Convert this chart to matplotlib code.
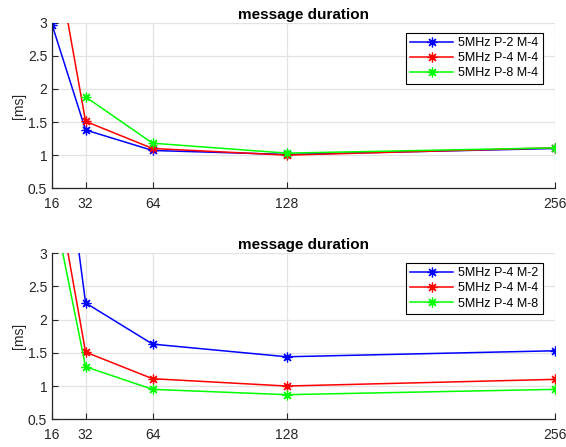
import numpy as np
import matplotlib.pyplot as plt

plt.rcParams['font.family'] = ['Liberation Sans', 'DejaVu Sans']
plt.rcParams['font.size'] = 10

# subcarriers on the x axis
x = [16, 32, 64, 128, 256]
xticks = [16, 32, 64, 128, 256]

# top panel: varying P, M-4
top_p2 = [2.97, 1.38, 1.07, 1.01, 1.10]
top_p4 = [4.35, 1.51, 1.10, 1.00, 1.11]
top_p8 = [np.nan, 1.88, 1.18, 1.03, 1.11]
top_labels = ['5MHz P-2 M-4', '5MHz P-4 M-4', '5MHz P-8 M-4']

# bottom panel: P-4, varying M
bot_m2 = [6.10, 2.25, 1.63, 1.44, 1.53]
bot_m4 = [4.35, 1.51, 1.11, 1.00, 1.10]
bot_m8 = [3.80, 1.29, 0.95, 0.87, 0.95]
bot_labels = ['5MHz P-4 M-2', '5MHz P-4 M-4', '5MHz P-4 M-8']

colors = ['#0000ff', '#ff0000', '#00ff00']

# matlab style '*' marker: 8 spoke asterisk
star = (8, 2, 0)


def draw_panel(ax, series, labels):
    for ys, lab, c in zip(series, labels, colors):
        ax.plot(x, ys, color=c, marker=star, markersize=7, markeredgewidth=0.9,
                linewidth=1.1, label=lab)
    ax.set_xlim(16, 256)
    ax.set_ylim(0.5, 3)
    ax.set_xticks(xticks)
    ax.set_yticks([0.5, 1, 1.5, 2, 2.5, 3])
    ax.set_yticklabels(['0.5', '1', '1.5', '2', '2.5', '3'])
    ax.grid(True, color='#e3e3e3', linewidth=0.9)
    ax.set_axisbelow(True)
    for s in ['top', 'right']:
        ax.spines[s].set_visible(False)
    for s in ['left', 'bottom']:
        ax.spines[s].set_color('#262626')
        ax.spines[s].set_linewidth(0.9)
    ax.tick_params(direction='in', length=4, colors='#262626', labelsize=10)
    ax.tick_params(axis='x', pad=6)
    ax.set_ylabel('[ms]', color='#262626', labelpad=1)
    ax.set_title('message duration', fontweight='bold', fontsize=11, pad=3)
    leg = ax.legend(loc='upper right', bbox_to_anchor=(0.976, 0.94),
                    fancybox=False, edgecolor='black', framealpha=1,
                    handlelength=3.4, handletextpad=0.4, borderpad=0.35,
                    labelspacing=0.25, borderaxespad=0, fontsize=9)
    leg.get_frame().set_linewidth(0.8)


fig = plt.figure(figsize=(5.66, 4.47), dpi=100)
ax1 = fig.add_axes([0.092, 0.579, 0.888, 0.370])
ax2 = fig.add_axes([0.092, 0.062, 0.888, 0.372])

draw_panel(ax1, [top_p2, top_p4, top_p8], top_labels)
draw_panel(ax2, [bot_m2, bot_m4, bot_m8], bot_labels)

fig.savefig('out.png', dpi=100)
